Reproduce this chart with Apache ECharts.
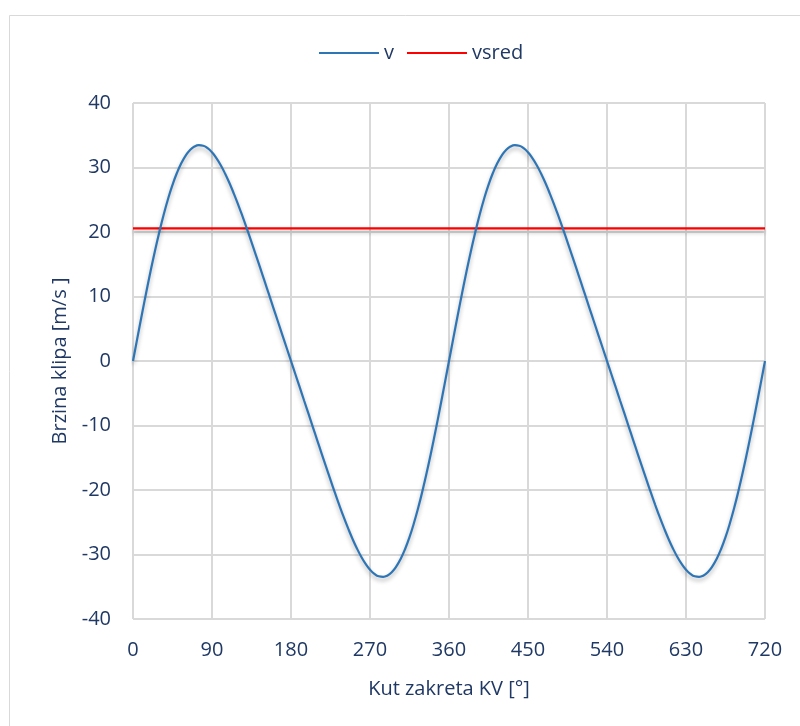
<!DOCTYPE html>
<html>
<head>
<meta charset="utf-8">
<script src="https://cdn.jsdelivr.net/npm/echarts@6/dist/echarts.min.js"></script>
<style>html,body{margin:0;padding:0;background:#fff;}#chart{width:800px;height:726px;}</style>
</head>
<body>
<div id="chart"></div>
<script>
// crank angle [deg]
const angles = [0,5,10,15,20,25,30,35,40,45,50,55,60,65,70,75,80,85,90,95,100,105,110,115,120,125,130,135,140,145,150,155,160,165,170,175,180,
  185,190,195,200,205,210,215,220,225,230,235,240,245,250,255,260,265,270,275,280,285,290,295,300,305,310,315,320,325,330,335,340,345,350,355,360,
  365,370,375,380,385,390,395,400,405,410,415,420,425,430,435,440,445,450,455,460,465,470,475,480,485,490,495,500,505,510,515,520,525,530,535,540,
  545,550,555,560,565,570,575,580,585,590,595,600,605,610,615,620,625,630,635,640,645,650,655,660,665,670,675,680,685,690,695,700,705,710,715,720];
// piston velocity v [m/s]
const velocity = [0,3.59,7.13,10.59,13.91,17.07,20.01,22.72,25.16,27.31,29.15,30.66,31.85,32.71,33.25,33.46,33.38,33.00,32.35,31.46,30.34,29.03,27.55,25.92,24.18,22.33,20.42,18.44,16.43,14.39,12.34,10.28,8.21,6.16,4.10,2.05,0,
  -2.05,-4.10,-6.16,-8.21,-10.28,-12.34,-14.39,-16.43,-18.44,-20.42,-22.33,-24.18,-25.92,-27.55,-29.03,-30.34,-31.46,-32.35,-33.00,-33.38,-33.46,-33.25,-32.71,-31.85,-30.66,-29.15,-27.31,-25.16,-22.72,-20.01,-17.07,-13.91,-10.59,-7.13,-3.59,0,
  3.59,7.13,10.59,13.91,17.07,20.01,22.72,25.16,27.31,29.15,30.66,31.85,32.71,33.25,33.46,33.38,33.00,32.35,31.46,30.34,29.03,27.55,25.92,24.18,22.33,20.42,18.44,16.43,14.39,12.34,10.28,8.21,6.16,4.10,2.05,0,
  -2.05,-4.10,-6.16,-8.21,-10.28,-12.34,-14.39,-16.43,-18.44,-20.42,-22.33,-24.18,-25.92,-27.55,-29.03,-30.34,-31.46,-32.35,-33.00,-33.38,-33.46,-33.25,-32.71,-31.85,-30.66,-29.15,-27.31,-25.16,-22.72,-20.01,-17.07,-13.91,-10.59,-7.13,-3.59,0];
// mean piston velocity vsred [m/s]
const vsredAngles = [0, 720];
const vsredValues = [20.55, 20.55];
const seriesNames = ['v', 'vsred'];
const xTicks = {min: 0, max: 720, interval: 90};
const yTicks = {min: -40, max: 40, interval: 10};

const textColor = '#1f3864';
const font = '"Open Sans", "Noto Sans", sans-serif';
const fs = 20;
const chart = echarts.init(document.getElementById('chart'), null, {renderer: 'canvas'});
chart.setOption({
  backgroundColor: '#ffffff',
  animation: false,
  textStyle: {fontFamily: font, color: textColor},
  graphic: [{
    type: 'rect', left: 7, top: 13, silent: true,
    shape: {width: 820, height: 740},
    style: {fill: 'none', stroke: '#d9d9d9', lineWidth: 1}
  }],
  legend: {
    top: 38, left: 313,
    itemWidth: 60, itemHeight: 2.5, itemGap: 12,
    textStyle: {fontFamily: font, fontSize: fs, color: textColor},
    data: seriesNames
  },
  grid: {left: 133, right: 35, top: 103, bottom: 107, containLabel: false},
  xAxis: {
    type: 'value', min: xTicks.min, max: xTicks.max, interval: xTicks.interval,
    name: 'Kut zakreta KV [°]', nameLocation: 'middle', nameGap: 60,
    nameTextStyle: {fontFamily: font, fontSize: fs, color: textColor},
    axisLine: {show: false}, axisTick: {show: false},
    axisLabel: {fontFamily: font, fontSize: fs, color: textColor, margin: 21},
    splitLine: {show: true, lineStyle: {color: '#d9d9d9', width: 2}}
  },
  yAxis: {
    type: 'value', min: yTicks.min, max: yTicks.max, interval: yTicks.interval,
    name: 'Brzina klipa [m/s ]', nameLocation: 'middle', nameGap: 58, nameRotate: 90,
    nameTextStyle: {fontFamily: font, fontSize: fs, color: textColor},
    axisLine: {show: false}, axisTick: {show: false},
    axisLabel: {fontFamily: font, fontSize: fs, color: textColor, margin: 22},
    splitLine: {show: true, lineStyle: {color: '#d9d9d9', width: 2}}
  },
  series: [{
    name: seriesNames[0], type: 'line', smooth: true, symbol: 'none', legendIcon: 'rect',
    data: angles.map((a, i) => [a, velocity[i]]),
    lineStyle: {color: '#2e75b6', width: 2.2, shadowColor: 'rgba(0,0,0,0.3)', shadowBlur: 4, shadowOffsetY: 3},
    itemStyle: {color: '#2e75b6'}, z: 3
  }, {
    name: seriesNames[1], type: 'line', symbol: 'none', legendIcon: 'rect',
    data: vsredAngles.map((a, i) => [a, vsredValues[i]]),
    lineStyle: {color: '#ff0000', width: 2.2, shadowColor: 'rgba(0,0,0,0.3)', shadowBlur: 4, shadowOffsetY: 3},
    itemStyle: {color: '#ff0000'}, z: 2
  }]
});
</script>
</body>
</html>
